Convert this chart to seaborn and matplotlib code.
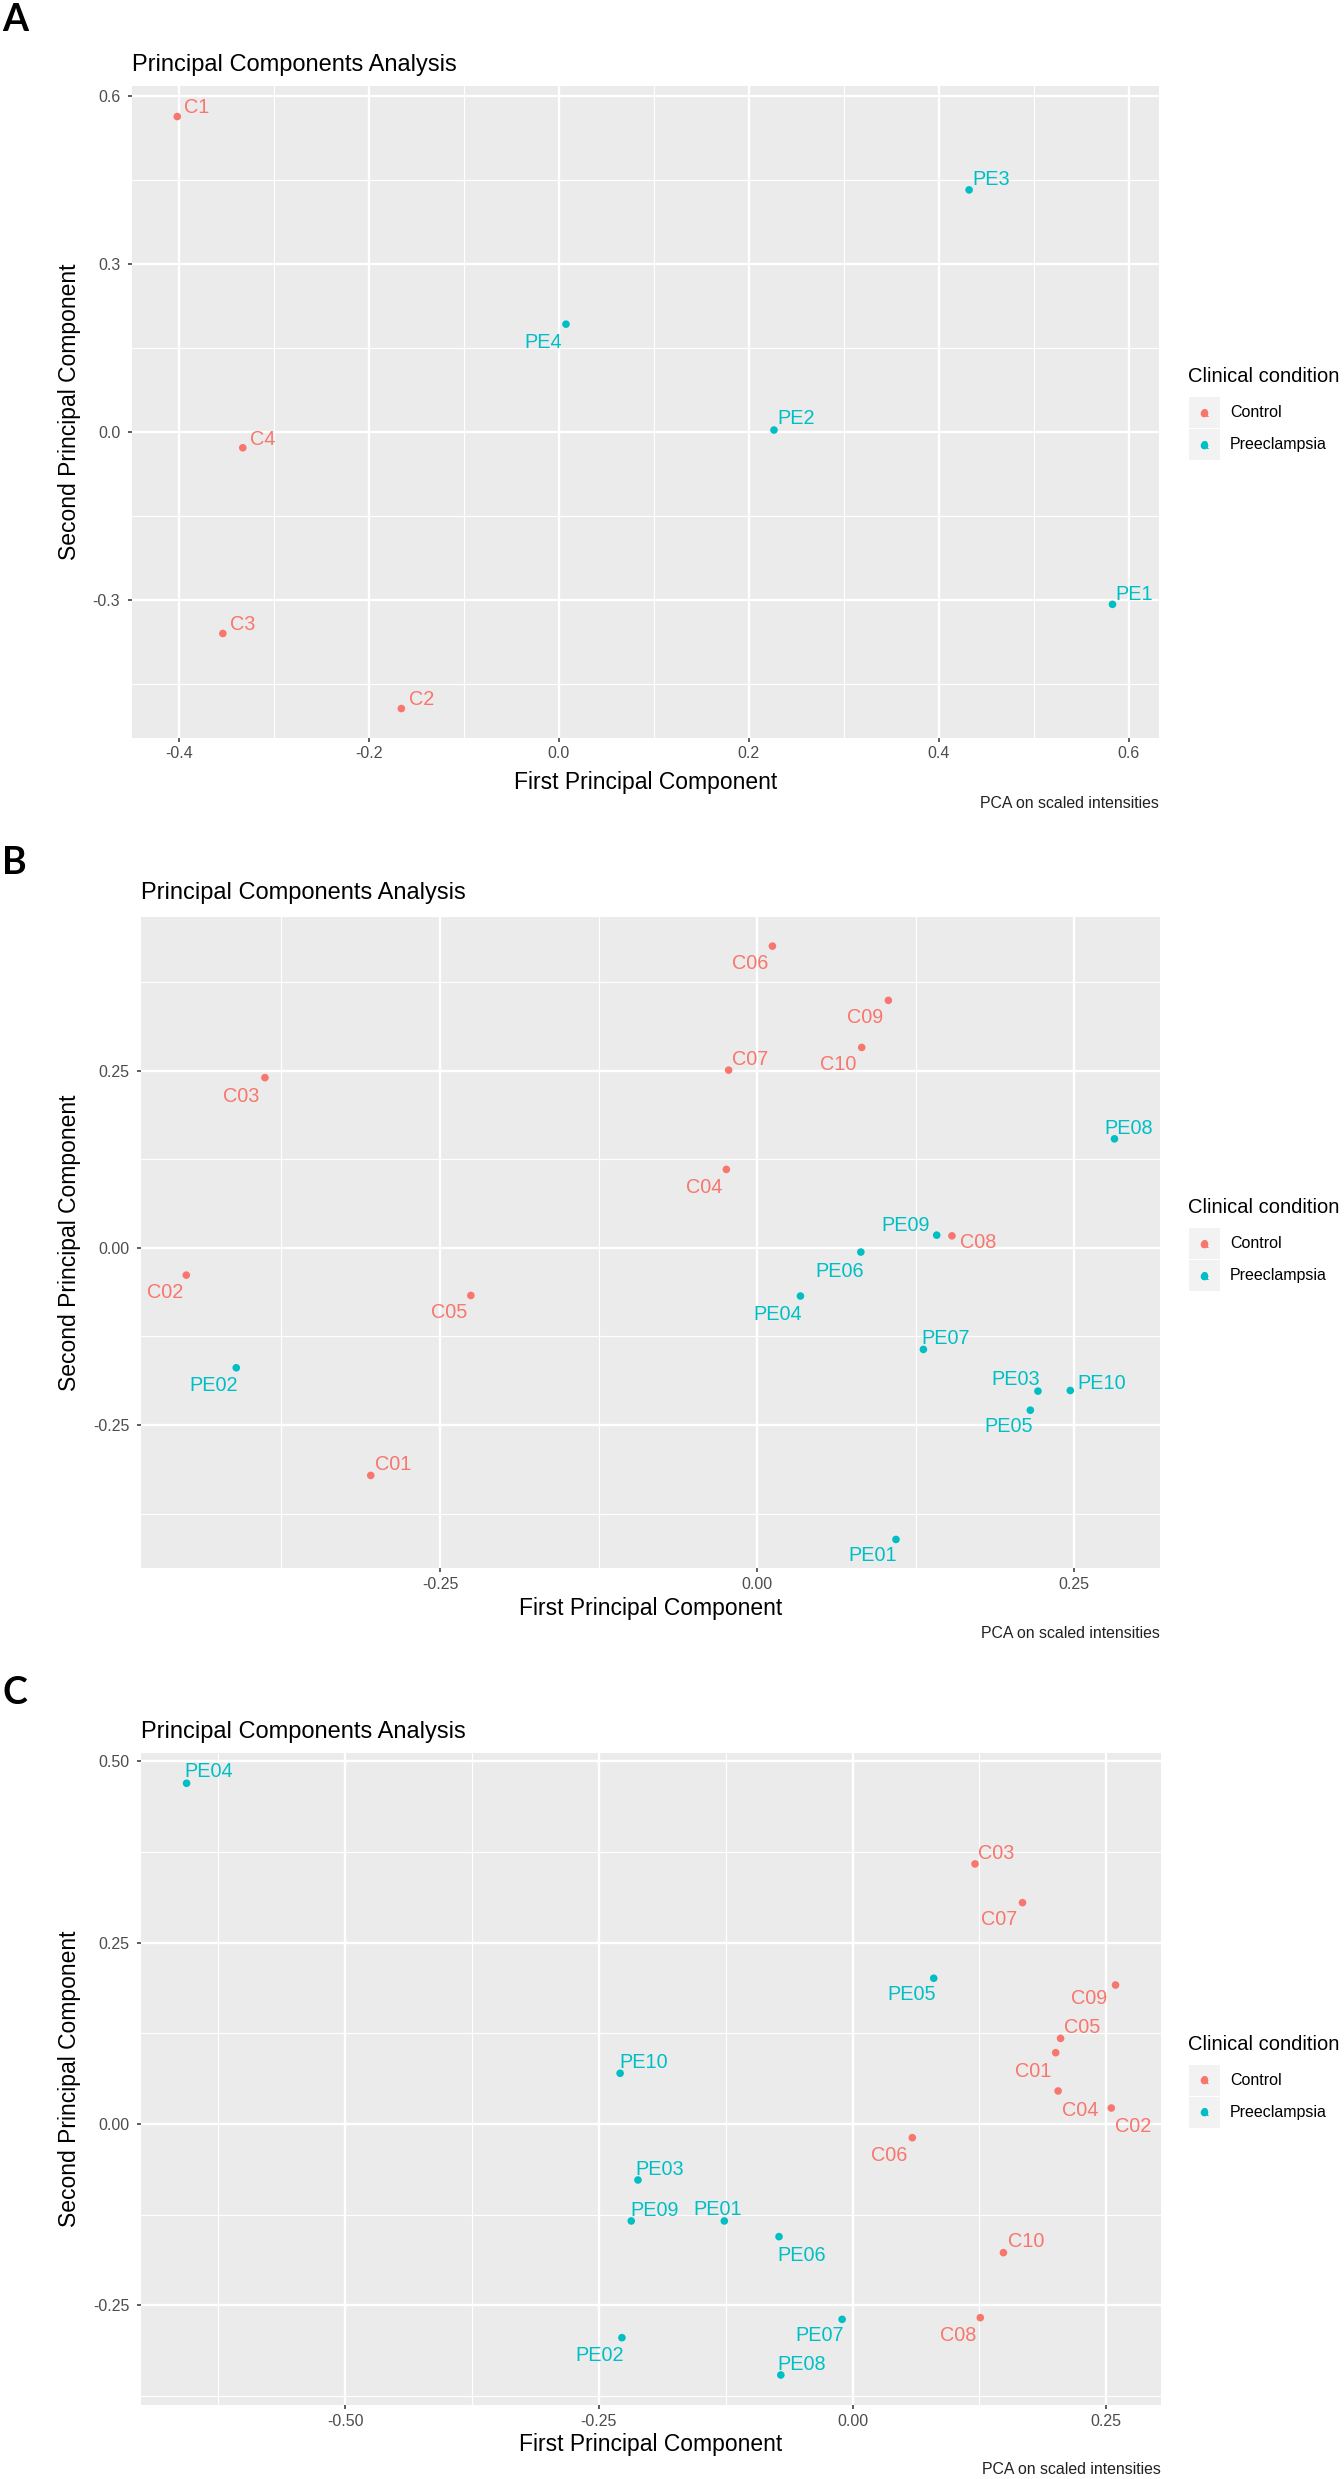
import matplotlib
matplotlib.use("Agg")
import matplotlib.pyplot as plt
import seaborn as sns
import pandas as pd
from matplotlib.patches import Rectangle
from matplotlib.lines import Line2D

sns.set_theme(style="darkgrid")
plt.rcParams["font.family"] = ["Liberation Sans", "DejaVu Sans"]

# ---------------- data ----------------
a_names = ["C1", "C2", "C3", "C4", "PE1", "PE2", "PE3", "PE4"]
a_group = ["Control", "Control", "Control", "Control",
           "Preeclampsia", "Preeclampsia", "Preeclampsia", "Preeclampsia"]
a_pc1 = [-0.402, -0.166, -0.354, -0.333, 0.583, 0.2265, 0.432, 0.0074]
a_pc2 = [0.5625, -0.494, -0.360, -0.0286, -0.308, 0.003, 0.4316, 0.192]

b_names = ["C01", "C02", "C03", "C04", "C05", "C06", "C07", "C08", "C09", "C10",
           "PE01", "PE02", "PE03", "PE04", "PE05", "PE06", "PE07", "PE08", "PE09", "PE10"]
b_group = ["Control"] * 10 + ["Preeclampsia"] * 10
b_pc1 = [-0.3046, -0.450, -0.388, -0.0243, -0.2257, 0.012, -0.0225, 0.1535, 0.1034, 0.0824,
         0.1094, -0.4106, 0.2213, 0.0341, 0.2153, 0.0817, 0.131, 0.2816, 0.1415, 0.2468]
b_pc2 = [-0.321, -0.0385, 0.240, 0.1106, -0.0672, 0.4255, 0.2506, 0.0169, 0.349, 0.2826,
         -0.4113, -0.1692, -0.2021, -0.068, -0.229, -0.006, -0.1433, 0.1537, 0.0179, -0.2012]

c_names = ["C01", "C02", "C03", "C04", "C05", "C06", "C07", "C08", "C09", "C10",
           "PE01", "PE02", "PE03", "PE04", "PE05", "PE06", "PE07", "PE08", "PE09", "PE10"]
c_group = ["Control"] * 10 + ["Preeclampsia"] * 10
c_pc1 = [0.2002, 0.255, 0.1207, 0.2026, 0.205, 0.0589, 0.1675, 0.1259, 0.2592, 0.1487,
         -0.1264, -0.2273, -0.2115, -0.6564, 0.080, -0.0725, -0.0103, -0.0707, -0.2181, -0.2291]
c_pc2 = [0.0983, 0.022, 0.3585, 0.0455, 0.118, -0.0189, 0.3051, -0.267, 0.1916, -0.1774,
         -0.1337, -0.2946, -0.0772, 0.4697, 0.2009, -0.1553, -0.2693, -0.346, -0.1337, 0.0699]

a_xticks = [-0.4, -0.2, 0.0, 0.2, 0.4, 0.6]
a_xticklabels = ["-0.4", "-0.2", "0.0", "0.2", "0.4", "0.6"]
a_yticks = [-0.3, 0.0, 0.3, 0.6]
a_yticklabels = ["-0.3", "0.0", "0.3", "0.6"]
b_xticks = [-0.25, 0.0, 0.25]
b_xticklabels = ["-0.25", "0.00", "0.25"]
b_yticks = [-0.25, 0.0, 0.25]
b_yticklabels = ["-0.25", "0.00", "0.25"]
c_xticks = [-0.5, -0.25, 0.0, 0.25]
c_xticklabels = ["-0.50", "-0.25", "0.00", "0.25"]
c_yticks = [-0.25, 0.0, 0.25, 0.5]
c_yticklabels = ["-0.25", "0.00", "0.25", "0.50"]

legend_title = "Clinical condition"
legend_labels = ["Control", "Preeclampsia"]
plot_title = "Principal Components Analysis"
x_title = "First Principal Component"
y_title = "Second Principal Component"
caption = "PCA on scaled intensities"

# ---------------- style / layout ----------------
palette = {"Control": "#F8766D", "Preeclampsia": "#00BFC4"}

# label offsets (pixels, y up) relative to each point - repel-like placement
a_offs = [(19.5, 10.7), (20, 11), (20, 10.6), (19.6, 10.4), (21.4, 11.6), (22.3, 13.3),
          (22.3, 12.7), (-23, -16.4)]
b_offs = [(22.8, 12.7), (-21, -15.7), (-24, -16.6), (-22.6, -15.7), (-21.8, -15.3),
          (-22.5, -15), (21.5, 12.3), (26, -5), (-23.6, -15), (-23.7, -15),
          (-23, -14), (-22.8, -15.7), (-21.8, 13.3), (-23, -16.3), (-21.8, -14),
          (-21.6, -17.3), (22.6, 13.3), (14.3, 12.7), (-31, 12), (31.6, 9.3)]
c_offs = [(-22.6, -16.6), (22, -16), (21.4, 12.3), (22.5, -17.3), (22, 12.6),
          (-22.8, -15.6), (-23.8, -15), (-22.6, -15.6), (-26, -11.7), (22.8, 13.4),
          (-6.6, 13.7), (-22.4, -15.6), (21.7, 12.7), (21.9, 13.3), (-22.6, -14.4),
          (22.8, -16.6), (-22.3, -14), (-22.6 + 43.6, 12.3), (23.3, 12.7), (23.2, 12.6)]

W, H, DPI = 1344, 2479, 100
fig = plt.figure(figsize=(W / DPI, H / DPI), dpi=DPI)
fig.patch.set_facecolor("white")


def T(x, y, s, **kw):
    return fig.text(x / W, 1 - y / H, s, **kw)


panels = [
    dict(letter="A", letter_y=20, names=a_names, group=a_group, pc1=a_pc1, pc2=a_pc2, offs=a_offs,
         box=(131.7, 86, 1159, 737.7), xlim=(-0.45, 0.632), ylim=(-0.546, 0.617),
         xt=a_xticks, xtl=a_xticklabels, yt=a_yticks, ytl=a_yticklabels,
         xminor=[-0.3, -0.1, 0.1, 0.3, 0.5], yminor=[-0.45, -0.15, 0.15, 0.45],
         title_y=65, xtitle_y=783, cap_y=803),
    dict(letter="B", letter_y=863.5, names=b_names, group=b_group, pc1=b_pc1, pc2=b_pc2, offs=b_offs,
         box=(140.6, 916.7, 1160, 1568.3), xlim=(-0.486, 0.3175), ylim=(-0.452, 0.467),
         xt=b_xticks, xtl=b_xticklabels, yt=b_yticks, ytl=b_yticklabels,
         xminor=[-0.375, -0.125, 0.125], yminor=[-0.375, -0.125, 0.125, 0.375],
         title_y=893, xtitle_y=1608, cap_y=1633),
    dict(letter="C", letter_y=1693.5, names=c_names, group=c_group, pc1=c_pc1, pc2=c_pc2, offs=c_offs,
         box=(140.6, 1753.3, 1161, 2405), xlim=(-0.7017, 0.304), ylim=(-0.3874, 0.511),
         xt=c_xticks, xtl=c_xticklabels, yt=c_yticks, ytl=c_yticklabels,
         xminor=[-0.625, -0.375, -0.125, 0.125], yminor=[-0.375, -0.125, 0.125, 0.375],
         title_y=1731.7, xtitle_y=2445, cap_y=2470),
]

for p in panels:
    l, t, r, b = p["box"]
    ax = fig.add_axes([l / W, 1 - b / H, (r - l) / W, (b - t) / H])
    df = pd.DataFrame({"pc1": p["pc1"], "pc2": p["pc2"], "group": p["group"], "name": p["names"]})
    sns.scatterplot(data=df, x="pc1", y="pc2", hue="group", palette=palette, s=30,
                    linewidth=0, legend=False, ax=ax, zorder=3)
    for name, x, y, g, (dx, dy) in zip(p["names"], p["pc1"], p["pc2"], p["group"], p["offs"]):
        ax.annotate(name, (x, y), xytext=(dx, dy - 2), textcoords="offset pixels",
                    ha="center", va="center", color=palette[g], fontsize=14.3, zorder=4)
    ax.set_facecolor("#EBEBEB")
    ax.set_xlim(*p["xlim"])
    ax.set_ylim(*p["ylim"])
    ax.set_xticks(p["xt"])
    ax.set_xticklabels(p["xtl"])
    ax.set_yticks(p["yt"])
    ax.set_yticklabels(p["ytl"])
    ax.set_xticks(p["xminor"], minor=True)
    ax.set_yticks(p["yminor"], minor=True)
    ax.grid(which="major", color="white", linewidth=1.7)
    ax.grid(which="minor", color="white", linewidth=0.85)
    ax.set_axisbelow(True)
    for sp in ax.spines.values():
        sp.set_visible(False)
    ax.tick_params(which="major", length=3.2, width=1.1, color="#333333",
                   labelsize=11.5, labelcolor="#4D4D4D", bottom=True, left=True)
    ax.tick_params(axis="x", which="major", pad=3)
    ax.tick_params(axis="y", which="major", pad=5)
    ax.tick_params(which="minor", length=0, bottom=False, left=False)
    ax.set_xlabel("")
    ax.set_ylabel("")

    # texts
    T(2, p["letter_y"], p["letter"], fontsize=27, fontweight="bold",
      family=["Lato", "DejaVu Sans"], ha="left", va="center", color="black")
    T(l, p["title_y"], plot_title, fontsize=17, ha="left", va="center", color="black")
    T((l + r) / 2, p["xtitle_y"], x_title, fontsize=16.5, ha="center", va="center", color="black")
    T(70, (t + b) / 2, y_title, fontsize=16.5, rotation=90, ha="center", va="center", color="black")
    T(r, p["cap_y"], caption, fontsize=11.4, ha="right", va="center", color="#222222")

    # legend
    cy = (t + b) / 2
    T(1188.5, cy - 35, legend_title, fontsize=14.5, ha="left", va="center", color="black")
    for k, lab in enumerate(legend_labels):
        ly = cy + 1 + 32 * k
        fig.add_artist(Rectangle((1188.5 / W, 1 - (ly + 15.5) / H), 31 / W, 31 / H,
                                 transform=fig.transFigure, facecolor="#F2F2F2",
                                 edgecolor="none"))
        fig.add_artist(Line2D([1204 / W], [1 - ly / H], transform=fig.transFigure,
                              marker="o", markersize=4.5, color=palette[lab], linestyle="none"))
        T(1204, ly, "a", fontsize=10, ha="center", va="center", color=palette[lab])
        T(1230, ly, lab, fontsize=11.5, ha="left", va="center", color="black")

fig.savefig("out.png", dpi=DPI)
